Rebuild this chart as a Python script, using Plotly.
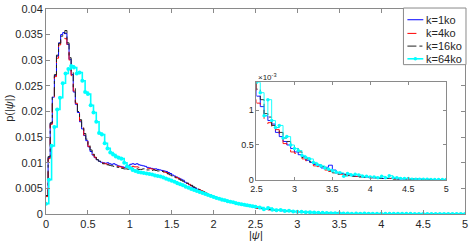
import numpy as np
import plotly.graph_objects as go

labels = ["k=1ko", "k=4ko", "k=16ko", "k=64ko"]

head_width = 0.025        # bin width 0 .. 2.5 for k=1,4,16
cyan_head_width = 1 / 30  # bin width 0 .. 2.5 for k=64
tail_start = 2.5
tail_width = 0.05         # bin width 2.5 .. 5 for all

k1_head = [
    0.0036, 0.0110, 0.0177, 0.0228, 0.0270, 0.0308, 0.0334, 0.0350, 0.0354, 0.0352,
    0.0331, 0.0302, 0.0272, 0.0238, 0.0214, 0.0198, 0.0180, 0.0166, 0.0153, 0.0143,
    0.0131, 0.0122, 0.0115, 0.0110, 0.0106, 0.0103, 0.0101, 0.0100, 0.0099, 0.0100,
    0.0098, 0.0097, 0.0098, 0.0096, 0.0094, 0.0093, 0.0092, 0.0091, 0.0092, 0.0094,
    0.0097, 0.0098, 0.0097, 0.0098, 0.0096, 0.0095, 0.0094, 0.0093, 0.0091, 0.0090,
    0.0089, 0.0088, 0.0088, 0.0087, 0.0086, 0.0085, 0.0084, 0.0083, 0.0081, 0.0079,
    0.0076, 0.0074, 0.0072, 0.0070, 0.0068, 0.0066, 0.0062, 0.0060, 0.0057, 0.0055,
    0.0052, 0.0050, 0.0048, 0.0046, 0.0044, 0.0042, 0.0040, 0.0038, 0.0036, 0.0034,
    0.0032, 0.0031, 0.0030, 0.0029, 0.0027, 0.0026, 0.0025, 0.0024, 0.0023, 0.0022,
    0.0021, 0.0020, 0.0019, 0.0018, 0.0017, 0.0016, 0.0016, 0.0015, 0.0014, 0.0013,
]
k4_head = [
    0.0034, 0.0108, 0.0175, 0.0226, 0.0268, 0.0304, 0.0330, 0.0344, 0.0346, 0.0342,
    0.0328, 0.0300, 0.0270, 0.0240, 0.0216, 0.0197, 0.0182, 0.0168, 0.0154, 0.0142,
    0.0132, 0.0124, 0.0116, 0.0111, 0.0107, 0.0104, 0.0101, 0.0099, 0.0098, 0.0097,
    0.0096, 0.0095, 0.0094, 0.0094, 0.0093, 0.0092, 0.0091, 0.0090, 0.0090, 0.0091,
    0.0092, 0.0093, 0.0092, 0.0092, 0.0091, 0.0091, 0.0090, 0.0090, 0.0089, 0.0089,
    0.0088, 0.0087, 0.0087, 0.0086, 0.0085, 0.0084, 0.0082, 0.0081, 0.0079, 0.0077,
    0.0075, 0.0073, 0.0071, 0.0069, 0.0067, 0.0065, 0.0063, 0.0060, 0.0058, 0.0055,
    0.0053, 0.0051, 0.0049, 0.0047, 0.0045, 0.0043, 0.0041, 0.0039, 0.0037, 0.0035,
    0.0033, 0.0032, 0.0030, 0.0029, 0.0028, 0.0026, 0.0025, 0.0024, 0.0023, 0.0022,
    0.0021, 0.0020, 0.0019, 0.0018, 0.0018, 0.0017, 0.0016, 0.0015, 0.0014, 0.0014,
]
k16_head = [
    0.0036, 0.0112, 0.0178, 0.0229, 0.0272, 0.0310, 0.0333, 0.0347, 0.0352, 0.0358,
    0.0334, 0.0305, 0.0276, 0.0245, 0.0218, 0.0200, 0.0184, 0.0170, 0.0157, 0.0146,
    0.0134, 0.0125, 0.0117, 0.0111, 0.0106, 0.0103, 0.0100, 0.0098, 0.0097, 0.0096,
    0.0095, 0.0094, 0.0093, 0.0092, 0.0091, 0.0090, 0.0089, 0.0088, 0.0088, 0.0087,
    0.0087, 0.0088, 0.0087, 0.0088, 0.0087, 0.0087, 0.0088, 0.0087, 0.0086, 0.0086,
    0.0085, 0.0086, 0.0085, 0.0084, 0.0084, 0.0083, 0.0082, 0.0080, 0.0078, 0.0076,
    0.0074, 0.0072, 0.0070, 0.0068, 0.0066, 0.0064, 0.0062, 0.0060, 0.0058, 0.0056,
    0.0053, 0.0051, 0.0049, 0.0047, 0.0045, 0.0043, 0.0041, 0.0039, 0.0037, 0.0035,
    0.0034, 0.0032, 0.0031, 0.0029, 0.0028, 0.0027, 0.0026, 0.0025, 0.0024, 0.0023,
    0.0022, 0.0021, 0.0020, 0.0019, 0.0018, 0.0017, 0.0016, 0.0016, 0.0015, 0.0014,
]
k64_head = [
    0.0020, 0.0067, 0.0133, 0.0170, 0.0204, 0.0227, 0.0255, 0.0274, 0.0283, 0.0289,
    0.0286, 0.0274, 0.0276, 0.0260, 0.0238, 0.0234, 0.0212, 0.0198, 0.0180, 0.0158,
    0.0155, 0.0138, 0.0128, 0.0120, 0.0116, 0.0112, 0.0110, 0.0108, 0.0100, 0.0093,
    0.0090, 0.0086, 0.0084, 0.0082, 0.0081, 0.0080, 0.0079, 0.0078, 0.0077, 0.0075,
    0.0074, 0.0073, 0.0071, 0.0069, 0.0067, 0.0065, 0.0063, 0.0060, 0.0058, 0.0056,
    0.0053, 0.0051, 0.0049, 0.0047, 0.0045, 0.0043, 0.0041, 0.0039, 0.0037, 0.0035,
    0.0033, 0.0031, 0.0030, 0.0028, 0.0027, 0.0025, 0.0024, 0.0023, 0.0021, 0.0020,
    0.0019, 0.0018, 0.0017, 0.0016, 0.0015,
]

# tails 2.5 .. 5, in units of 1e-3
k1_tail_e3 = [
    1.20, 1.05, 0.92, 0.85, 0.80, 0.68, 0.62, 0.55, 0.50, 0.45,
    0.40, 0.36, 0.33, 0.28, 0.25, 0.22, 0.20, 0.17, 0.18, 0.21,
    0.14, 0.10, 0.09, 0.08, 0.07, 0.06, 0.05, 0.05, 0.04, 0.04,
    0.03, 0.03, 0.03, 0.02, 0.02, 0.02, 0.02, 0.01, 0.01, 0.01,
    0.01, 0.01, 0.01, 0.01, 0.005, 0.005, 0.005, 0.0, 0.0, 0.0,
]
k4_tail_e3 = [
    1.10, 1.00, 0.80, 0.82, 0.70, 0.72, 0.58, 0.52, 0.48, 0.40,
    0.38, 0.34, 0.30, 0.27, 0.24, 0.20, 0.19, 0.15, 0.14, 0.12,
    0.10, 0.09, 0.08, 0.07, 0.06, 0.06, 0.05, 0.05, 0.04, 0.03,
    0.03, 0.03, 0.02, 0.02, 0.02, 0.02, 0.01, 0.01, 0.01, 0.01,
    0.01, 0.01, 0.005, 0.005, 0.005, 0.0, 0.0, 0.0, 0.0, 0.0,
]
k16_tail_e3 = [
    1.30, 1.15, 0.95, 0.90, 0.78, 0.75, 0.68, 0.60, 0.55, 0.50,
    0.45, 0.40, 0.32, 0.30, 0.26, 0.24, 0.22, 0.19, 0.16, 0.13,
    0.10, 0.08, 0.09, 0.07, 0.06, 0.05, 0.05, 0.04, 0.04, 0.03,
    0.03, 0.03, 0.02, 0.02, 0.02, 0.02, 0.01, 0.01, 0.01, 0.01,
    0.01, 0.01, 0.01, 0.005, 0.005, 0.005, 0.0, 0.0, 0.0, 0.0,
]
k64_tail_e3 = [
    1.40, 1.25, 0.92, 1.15, 0.85, 0.75, 0.78, 0.60, 0.62, 0.50,
    0.45, 0.42, 0.35, 0.32, 0.30, 0.25, 0.22, 0.20, 0.17, 0.15,
    0.13, 0.11, 0.10, 0.05, 0.09, 0.07, 0.08, 0.07, 0.05, 0.05,
    0.04, 0.04, 0.03, 0.05, 0.03, 0.06, 0.03, 0.03, 0.02, 0.02,
    0.02, 0.01, 0.01, 0.01, 0.01, 0.01, 0.005, 0.005, 0.005, 0.005,
]

x_ticks = [0, 0.5, 1, 1.5, 2, 2.5, 3, 3.5, 4, 4.5, 5]
x_ticktext = ["0", "0.5", "1", "1.5", "2", "2.5", "3", "3.5", "4", "4.5", "5"]
y_ticks = [0, 0.005, 0.01, 0.015, 0.02, 0.025, 0.03, 0.035, 0.04]
y_ticktext = ["0", "0.005", "0.01", "0.015", "0.02", "0.025", "0.03", "0.035", "0.04"]
inset_x_ticks = [2.5, 3, 3.5, 4, 4.5, 5]
inset_x_ticktext = ["2.5", "3", "3.5", "4", "4.5", "5"]
inset_y_ticks = [0, 0.0005, 0.001]
inset_y_ticktext = ["0", "0.5", "1"]


def steps(head, hw, tail_e3):
    xh = np.arange(len(head)) * hw
    xt = tail_start + np.arange(len(tail_e3)) * tail_width
    x = np.concatenate([xh, xt, [tail_start + len(tail_e3) * tail_width]])
    tail = np.array(tail_e3) * 1e-3
    y = np.concatenate([np.array(head), tail, [tail[-1]]])
    return x, y


series = [
    (k1_head, head_width, k1_tail_e3, dict(color="#0000ff", dash="solid"), False),
    (k4_head, head_width, k4_tail_e3, dict(color="#ff0000", dash="dash"), False),
    (k16_head, head_width, k16_tail_e3, dict(color="#222222", dash="dashdot"), False),
    (k64_head, cyan_head_width, k64_tail_e3, dict(color="#00ffff", dash="solid"), True),
]

FONT = "Liberation Sans, Arial, Helvetica, sans-serif"
TXT = "#262626"
AX = "#8a8a8a"

fig = go.Figure()
for (head, hw, tail, style, mark), name in zip(series, labels):
    x, y = steps(head, hw, tail)
    fig.add_trace(go.Scatter(
        x=x, y=y, name=name, mode="lines+markers" if mark else "lines",
        line=dict(color=style["color"], dash=style["dash"], width=1.6 if mark else 1.0, shape="hv"),
        marker=dict(size=4, color=style["color"]) if mark else None,
        showlegend=False, xaxis="x", yaxis="y"))
    fig.add_trace(go.Scatter(
        x=x, y=y, name=name, mode="lines+markers" if mark else "lines",
        line=dict(color=style["color"], dash=style["dash"], width=0.9, shape="hv"),
        marker=dict(size=3.5, color=style["color"]) if mark else None,
        showlegend=False, xaxis="x2", yaxis="y2"))

axis_common = dict(showgrid=False, zeroline=False, showline=True, linecolor=AX, linewidth=1,
                   mirror="ticks", ticks="inside", tickcolor=AX, tickwidth=1,
                   ticklabeloverflow="allow")

L, R, T, B = 46, 3, 4, 29
W, H = 471, 243
PW, PH = W - L - R, H - T - B


def px_x(p):
    return (p - L) / PW


def px_y(p):
    return (H - B - p) / PH


fig.update_layout(
    width=W, height=H, margin=dict(l=L, r=R, t=T, b=B, pad=0),
    paper_bgcolor="white", plot_bgcolor="white",
    font=dict(family=FONT, size=11, color=TXT),
    xaxis=dict(range=[0, 5], domain=[0, 1], tickvals=x_ticks, ticktext=x_ticktext,
               ticklen=4, tickfont=dict(size=11, color=TXT), **axis_common),
    yaxis=dict(range=[0, 0.04], domain=[0, 1], tickvals=y_ticks, ticktext=y_ticktext,
               ticklen=4, tickfont=dict(size=11, color=TXT), **axis_common),
    xaxis2=dict(range=[2.5, 5], domain=[px_x(258), px_x(449)], anchor="y2",
                tickvals=inset_x_ticks, ticktext=inset_x_ticktext, ticklen=3,
                tickfont=dict(size=9, color=TXT), **axis_common),
    yaxis2=dict(range=[0, 0.0014], domain=[px_y(179), px_y(79)], anchor="x2",
                tickvals=inset_y_ticks, ticktext=inset_y_ticktext, ticklen=3,
                tickfont=dict(size=9, color=TXT), **axis_common),
    showlegend=False,
)

annotations = [
    dict(text="|<i>ψ</i>|", x=0.5, y=px_y(235), xref="paper", yref="paper",
         xanchor="center", yanchor="middle", showarrow=False, font=dict(size=11, color=TXT)),
    dict(text="p(|<i>ψ</i>|)", x=px_x(8), y=px_y(106), xref="paper", yref="paper",
         xanchor="center", yanchor="middle", textangle=-90, showarrow=False,
         font=dict(size=11, color=TXT)),
    dict(text="×10<sup>-3</sup>", x=px_x(257), y=px_y(74), xref="paper", yref="paper",
         xanchor="left", yanchor="middle", showarrow=False, font=dict(size=8, color=TXT)),
]

# legend box, drawn manually to match compact MATLAB legend
shapes = [dict(type="rect", xref="paper", yref="paper",
               x0=px_x(406), x1=px_x(469), y0=px_y(61), y1=px_y(3),
               line=dict(color=AX, width=1), fillcolor="white", layer="above")]
rows = [15, 29, 42, 55]
for (head, hw, tail, style, mark), name, ry in zip(series, labels, rows):
    shapes.append(dict(type="line", xref="paper", yref="paper",
                       x0=px_x(410), x1=px_x(426), y0=px_y(ry), y1=px_y(ry),
                       line=dict(color=style["color"], dash=style["dash"],
                                 width=1.6 if mark else 1.0), layer="above"))
    if mark:
        shapes.append(dict(type="circle", xref="paper", yref="paper",
                           x0=px_x(416.2), x1=px_x(419.8), y0=px_y(ry + 1.8), y1=px_y(ry - 1.8),
                           line=dict(color=style["color"], width=0), fillcolor=style["color"],
                           layer="above"))
    annotations.append(dict(text=name, x=px_x(427), y=px_y(ry), xref="paper", yref="paper",
                            xanchor="left", yanchor="middle", showarrow=False,
                            font=dict(size=11, color=TXT)))

fig.update_layout(annotations=annotations, shapes=shapes)
fig.write_html("out.html",
               config={"displayModeBar": False},
               post_script="document.body.style.margin='0';document.body.style.padding='0';"
                           "document.body.style.overflow='hidden';")
